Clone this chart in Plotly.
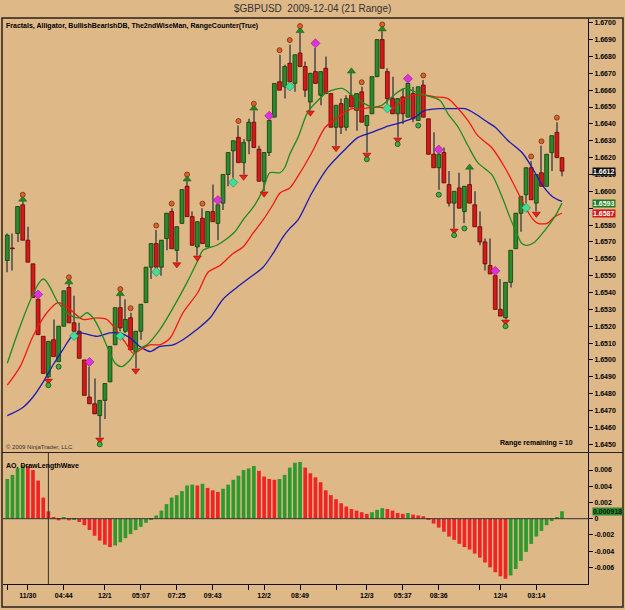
import plotly.graph_objects as go

# ---------------- data ----------------
BARS = list(range(1, 110))
OPEN = [1.6559,1.6566,1.6575,1.6592,1.6571,1.6557,1.6536,1.6514,1.6490,1.6512,
        1.6499,1.6520,1.6543,1.6522,1.6517,1.6500,1.6478,1.6474,1.6467,1.6476,
        1.6487,1.6509,1.6531,1.6517,1.6525,1.6505,1.6517,1.6534,1.6555,1.6569,
        1.6555,1.6572,1.6588,1.6565,1.6581,1.6603,1.6585,1.6567,1.6584,1.6567,
        1.6588,1.6581,1.6593,1.6610,1.6624,1.6632,1.6617,1.6630,1.6641,1.6625,
        1.6606,1.6623,1.6644,1.6665,1.6662,1.6676,1.6664,1.6682,1.6674,1.6653,
        1.6671,1.6657,1.6673,1.6658,1.6638,1.6652,1.6638,1.6657,1.6648,1.6659,
        1.6639,1.6646,1.6668,1.6690,1.6671,1.6655,1.6646,1.6656,1.6644,1.6658,
        1.6642,1.6663,1.6643,1.6622,1.6614,1.6623,1.6604,1.6593,1.6602,1.6588,
        1.6604,1.6592,1.6579,1.6570,1.6556,1.6550,1.6530,1.6525,1.6546,1.6566,
        1.6587,1.6598,1.6614,1.6593,1.6611,1.6603,1.6623,1.6635,1.6620]
HIGH = [1.6575,1.6575,1.6591,1.6594,1.6579,1.6557,1.6536,1.6514,1.6511,1.6524,
        1.6520,1.6541,1.6545,1.6538,1.6522,1.6500,1.6496,1.6489,1.6476,1.6486,
        1.6508,1.6531,1.6538,1.6536,1.6528,1.6517,1.6533,1.6555,1.6569,1.6577,
        1.6571,1.6587,1.6590,1.6579,1.6601,1.6606,1.6588,1.6582,1.6590,1.6588,
        1.6604,1.6592,1.6610,1.6623,1.6630,1.6639,1.6631,1.6643,1.6648,1.6627,
        1.6623,1.6642,1.6664,1.6681,1.6675,1.6687,1.6681,1.6694,1.6677,1.6670,
        1.6685,1.6671,1.6680,1.6658,1.6651,1.6655,1.6657,1.6670,1.6658,1.6662,
        1.6645,1.6668,1.6690,1.6695,1.6673,1.6668,1.6655,1.6661,1.6664,1.6662,
        1.6662,1.6666,1.6643,1.6635,1.6622,1.6626,1.6612,1.6600,1.6611,1.6603,
        1.6613,1.6600,1.6588,1.6572,1.6572,1.6550,1.6548,1.6546,1.6565,1.6587,
        1.6597,1.6614,1.6618,1.6610,1.6627,1.6622,1.6633,1.6641,1.6620]
LOW = [1.6552,1.6553,1.6570,1.6571,1.6558,1.6537,1.6515,1.6492,1.6489,1.6502,
       1.6499,1.6520,1.6522,1.6517,1.6501,1.6479,1.6474,1.6468,1.6454,1.6465,
       1.6487,1.6509,1.6517,1.6516,1.6506,1.6495,1.6512,1.6534,1.6548,1.6555,
       1.6550,1.6565,1.6566,1.6558,1.6581,1.6585,1.6568,1.6562,1.6569,1.6567,
       1.6582,1.6571,1.6589,1.6603,1.6608,1.6617,1.6610,1.6622,1.6626,1.6606,
       1.6600,1.6621,1.6644,1.6660,1.6655,1.6665,1.6659,1.6674,1.6656,1.6648,
       1.6664,1.6651,1.6658,1.6638,1.6627,1.6634,1.6636,1.6650,1.6636,1.6641,
       1.6623,1.6646,1.6668,1.6673,1.6652,1.6646,1.6632,1.6640,1.6644,1.6641,
       1.6642,1.6644,1.6622,1.6614,1.6601,1.6605,1.6591,1.6578,1.6590,1.6581,
       1.6593,1.6579,1.6568,1.6553,1.6551,1.6530,1.6526,1.6524,1.6543,1.6566,
       1.6576,1.6593,1.6595,1.6588,1.6603,1.6603,1.6612,1.6620,1.6609]
CLOSE = [1.6574,1.6566,1.6591,1.6571,1.6558,1.6537,1.6515,1.6492,1.6511,1.6502,
         1.6520,1.6541,1.6522,1.6517,1.6501,1.6479,1.6474,1.6468,1.6476,1.6486,
         1.6508,1.6531,1.6519,1.6524,1.6506,1.6517,1.6533,1.6555,1.6569,1.6555,
         1.6571,1.6587,1.6566,1.6579,1.6601,1.6585,1.6568,1.6582,1.6569,1.6588,
         1.6582,1.6592,1.6610,1.6623,1.6630,1.6617,1.6629,1.6641,1.6626,1.6606,
         1.6623,1.6642,1.6664,1.6660,1.6674,1.6665,1.6681,1.6674,1.6660,1.6670,
         1.6664,1.6671,1.6658,1.6638,1.6651,1.6638,1.6655,1.6650,1.6658,1.6641,
         1.6645,1.6668,1.6690,1.6673,1.6655,1.6646,1.6655,1.6646,1.6664,1.6643,
         1.6662,1.6644,1.6622,1.6614,1.6622,1.6605,1.6593,1.6600,1.6590,1.6603,
         1.6593,1.6579,1.6570,1.6557,1.6551,1.6530,1.6526,1.6546,1.6565,1.6587,
         1.6597,1.6614,1.6595,1.6610,1.6603,1.6622,1.6633,1.6620,1.6612]

# Alligator lines (bar position, price)
LIPS_X = [1.0,8.0,10.9,13.0,15.0,16.5,17.7,19.0,21.0,22.0,23.3,24.9,26.3,28.2,30.7,33.3,36.0,38.1,39.1,
          41.8,43.8,45.3,46.9,49.2,50.8,52.1,54.1,55.0,56.0,57.6,59.5,61.5,63.4,66.2,68.1,70.0,72.0,73.9,
          75.1,77.1,78.4,80.4,82.3,85.2,86.8,88.8,90.7,92.6,95.3,97.3,98.8,100.2,101.2,102.2,103.7,105.7,107.6,109.0]
LIPS_Y = [1.6498,1.6548,1.6534,1.6527,1.6525,1.6528,1.6525,1.6518,1.6504,1.6498,1.6496,1.6500,1.6506,1.6509,
          1.6518,1.6531,1.6546,1.6559,1.6565,1.6568,1.6572,1.6576,1.6583,1.6592,1.6601,1.6611,1.6611,1.6614,
          1.6622,1.6632,1.6647,1.6654,1.6659,1.6661,1.6657,1.6653,1.6650,1.6651,1.6654,1.6659,1.6661,1.6659,
          1.6657,1.6654,1.6646,1.6638,1.6627,1.6617,1.6610,1.6597,1.6585,1.6575,1.6569,1.6568,1.6570,1.6577,
          1.6585,1.6593]
TEETH_X = [1.0,3.5,6.0,8.7,10.9,13.2,15.7,18.5,20.4,22.4,24.3,25.5,27.4,28.8,30.7,32.7,35.2,38.1,40.1,42.4,
           44.9,46.9,48.8,50.8,52.7,54.1,56.0,57.6,60.3,62.9,65.4,68.1,70.0,73.2,75.9,77.9,79.8,82.3,84.3,86.8,
           88.8,90.7,92.6,95.3,97.9,99.8,101.8,103.2,104.3,106.1,107.6,109.0]
TEETH_Y = [1.6485,1.6496,1.6514,1.6528,1.6534,1.6530,1.6524,1.6525,1.6524,1.6517,1.6509,1.6504,1.6507,1.6509,
           1.6509,1.6513,1.6528,1.6540,1.6552,1.6556,1.6563,1.6567,1.6575,1.6583,1.6592,1.6599,1.6602,1.6609,
           1.6623,1.6638,1.6644,1.6649,1.6649,1.6650,1.6649,1.6654,1.6657,1.6657,1.6656,1.6655,1.6649,1.6642,
           1.6633,1.6626,1.6614,1.6603,1.6591,1.6584,1.6581,1.6581,1.6585,1.6587]
JAW_X = [1.0,4.1,6.0,8.0,9.9,11.8,13.6,15.2,18.5,21.0,22.9,24.9,26.8,28.8,30.7,33.3,35.2,37.9,40.5,43.0,
         45.7,48.3,50.8,52.7,54.7,56.0,57.6,60.3,63.4,66.8,69.3,72.0,74.5,77.9,80.4,82.3,84.9,87.6,90.1,92.1,
         94.0,96.0,98.5,101.2,103.2,105.1,107.1,109.0]
JAW_Y = [1.6467,1.6472,1.6478,1.6487,1.6497,1.6506,1.6514,1.6516,1.6514,1.6516,1.6516,1.6513,1.6508,1.6505,
         1.6508,1.6509,1.6512,1.6518,1.6525,1.6536,1.6543,1.6549,1.6555,1.6563,1.6573,1.6578,1.6583,1.6599,
         1.6614,1.6625,1.6632,1.6635,1.6638,1.6641,1.6644,1.6648,1.6649,1.6649,1.6649,1.6646,1.6642,1.6638,
         1.6630,1.6623,1.6614,1.6604,1.6597,1.6594]

# Signal markers (bar numbers)
FRACTAL_UP_BARS = [4, 13, 23, 36, 49, 58, 74]
ARROW_UP_ONLY_BARS = [68, 91]
WISEMAN_DOT_BARS = [25, 30, 33, 39, 46, 54, 56, 70, 82, 103, 105, 108]
FRACTAL_DOWN_BARS = [9, 19, 26, 34, 38, 47, 51, 60, 65, 71, 77, 88, 98, 104]
BULL_DOT_BARS = [9, 11, 19, 71, 77, 81, 85, 88, 90, 98]
BEARISH_DB_BARS = [7, 17, 42, 52, 61, 79, 85, 96]
BULLISH_DB_BARS = [14, 23, 30, 45, 56, 75, 102]

# Awesome oscillator
AO = [0.0049,0.0054,0.0062,0.0066,0.0065,0.0060,0.0047,0.0026,0.0009,0.0001,
      -0.0002,0.0001,-0.0002,-0.0001,-0.0004,-0.0008,-0.0014,-0.0021,-0.0027,-0.0032,
      -0.0035,-0.0033,-0.0029,-0.0024,-0.0019,-0.0014,-0.0010,-0.0005,-0.0001,0.0004,
      0.0010,0.0018,0.0026,0.0029,0.0034,0.0041,0.0042,0.0041,0.0043,0.0038,
      0.0035,0.0033,0.0037,0.0042,0.0048,0.0053,0.0060,0.0062,0.0065,0.0059,
      0.0052,0.0049,0.0048,0.0049,0.0054,0.0063,0.0069,0.0070,0.0063,0.0056,
      0.0051,0.0045,0.0035,0.0029,0.0024,0.0019,0.0015,0.0012,0.0010,0.0008,
      0.0006,0.0008,0.0011,0.0013,0.0012,0.0010,0.0007,0.0006,0.0007,0.0005,
      0.0004,0.0003,-0.0001,-0.0006,-0.0011,-0.0016,-0.0022,-0.0026,-0.0031,-0.0035,
      -0.0038,-0.0043,-0.0048,-0.0054,-0.0060,-0.0066,-0.0071,-0.0074,-0.0070,-0.0062,
      -0.0052,-0.0041,-0.0031,-0.0022,-0.0015,-0.0008,-0.0003,0.0002,0.000918]
CURSOR_BAR = 9

PRICE_TICK_VALUES = [1.6450,1.6460,1.6470,1.6480,1.6490,1.6500,1.6510,1.6520,1.6530,1.6540,1.6550,1.6560,
                     1.6570,1.6580,1.6590,1.6600,1.6610,1.6620,1.6630,1.6640,1.6650,1.6660,1.6670,1.6680,
                     1.6690,1.6700]
# 1.6590 is hidden behind the value boxes in the reference
PRICE_TICK_LABELS = ["1.6450","1.6460","1.6470","1.6480","1.6490","1.6500","1.6510","1.6520",
                     "1.6530","1.6540","1.6550","1.6560","1.6570","1.6580","","1.6600",
                     "1.6610","1.6620","1.6630","1.6640","1.6650","1.6660","1.6670","1.6680",
                     "1.6690","1.6700"]
AO_TICK_LABELS = ["-0.006","-0.004","-0.002","0","0.002","0.004","0.006"]
TIME_LABELS = ["11/30","04:44","12/1","05:07","07:25","09:43","12/2","08:49","12/3","05:37","08:36","12/4","03:14"]
TIME_LABEL_BARS = [5, 12, 20, 27, 34, 41, 51, 58, 71, 78, 85, 97, 104]
MINOR_TICK_BARS = [1, 48, 65, 93]

TITLE = "$GBPUSD\u00a0 2009-12-04 (21 Range)"
INDICATORS = "Fractals, Alligator, BullishBearishDB, The2ndWiseMan, RangeCounter(True)"
COPYRIGHT = "\u00a9 2009 NinjaTrader, LLC"
RANGE_TEXT = "Range remaining = 10"
AO_TITLE = "AO, DrawLengthWave"

# ---------------- styles ----------------
BG = "#DEB887"
FONT = "Liberation Sans"
UP_FILL, UP_EDGE = "#2B8A2B", "#0E3E0E"
DN_FILL, DN_EDGE = "#D81818", "#5E0606"
WICK = "#6E6458"
LIPS_C, TEETH_C, JAW_C = "#1E8C1E", "#F01A10", "#1A1AB4"
AO_UP, AO_DN = "#2E9A2E", "#F02424"


def px_x(px):
    return (px - 3) / 585.0


def px_y(py):
    return (584 - py) / 566.0


idx = {b: i for i, b in enumerate(BARS)}
up = [c > o for o, c in zip(OPEN, CLOSE)]
body_base = [min(o, c) for o, c in zip(OPEN, CLOSE)]
body_h = [max(abs(c - o), 0.00004) for o, c in zip(OPEN, CLOSE)]
wick_h = [h - l for h, l in zip(HIGH, LOW)]

fig = go.Figure()

# wicks
fig.add_trace(go.Bar(x=BARS, y=wick_h, base=LOW, width=0.2, marker=dict(color=WICK, line=dict(width=0)),
                     hoverinfo="skip"))
# bodies
fig.add_trace(go.Bar(x=BARS, y=body_h, base=body_base, width=0.74,
                     marker=dict(color=[UP_FILL if u else DN_FILL for u in up],
                                 line=dict(color=[UP_EDGE if u else DN_EDGE for u in up], width=0.8)),
                     hoverinfo="skip"))

# alligator
for xs, ys, col in [(JAW_X, JAW_Y, JAW_C), (TEETH_X, TEETH_Y, TEETH_C), (LIPS_X, LIPS_Y, LIPS_C)]:
    fig.add_trace(go.Scatter(x=xs, y=ys, mode="lines", line=dict(color=col, width=1.3, shape="spline", smoothing=0.8),
                             hoverinfo="skip"))


def mk(bars, ref, off):
    return [b for b in bars], [ref[idx[b]] + off for b in bars]


x, y = mk(FRACTAL_UP_BARS + ARROW_UP_ONLY_BARS, HIGH, 0.00012)
fig.add_trace(go.Scatter(x=x, y=y, mode="markers", marker=dict(symbol="triangle-up", size=7, color="#1E8C1E",
                                                               line=dict(color="#0E4E0E", width=0.5)), hoverinfo="skip"))
x, y = mk(FRACTAL_UP_BARS, HIGH, 0.00040)
x2, y2 = mk(WISEMAN_DOT_BARS, HIGH, 0.00027)
fig.add_trace(go.Scatter(x=x + x2, y=y + y2, mode="markers", marker=dict(symbol="circle", size=5, color="#E0602A",
                                                                           line=dict(color="#5A2A10", width=0.7)), hoverinfo="skip"))
x, y = mk(FRACTAL_DOWN_BARS, LOW, -0.00014)
fig.add_trace(go.Scatter(x=x, y=y, mode="markers", marker=dict(symbol="triangle-down", size=7, color="#F02010",
                                                               line=dict(color="#7A0A0A", width=0.5)), hoverinfo="skip"))
bull_off = [-0.00040 if b in FRACTAL_DOWN_BARS else -0.00030 for b in BULL_DOT_BARS]
fig.add_trace(go.Scatter(x=BULL_DOT_BARS, y=[LOW[idx[b]] + o for b, o in zip(BULL_DOT_BARS, bull_off)], mode="markers",
                         marker=dict(symbol="circle", size=5, color="#3CB043", line=dict(color="#123A12", width=0.7)),
                         hoverinfo="skip"))
x, y = mk(BEARISH_DB_BARS, HIGH, 0.00028)
fig.add_trace(go.Scatter(x=x, y=y, mode="markers", marker=dict(symbol="diamond", size=7, color="#E030E0",
                                                               line=dict(color="#701070", width=0.5)), hoverinfo="skip"))
x, y = mk(BULLISH_DB_BARS, LOW, -0.00028)
fig.add_trace(go.Scatter(x=x, y=y, mode="markers", marker=dict(symbol="diamond", size=7, color="#3CE09A",
                                                               line=dict(color="#13704A", width=0.5)), hoverinfo="skip"))

# AO histogram
ao_col = [AO_UP if (i == 0 or AO[i] > AO[i - 1]) else AO_DN for i in range(len(AO))]
fig.add_trace(go.Bar(x=BARS, y=AO, width=0.72, marker=dict(color=ao_col, line=dict(width=0)),
                     xaxis="x2", yaxis="y2", hoverinfo="skip"))

XR = [0.163, 114.06]
tickfont = dict(family=FONT, size=7, color="#000", weight="bold")
fig.update_layout(
    width=625, height=610, margin=dict(l=3, r=37, t=18, b=26),
    paper_bgcolor=BG, plot_bgcolor=BG, showlegend=False, barmode="overlay",
    xaxis=dict(domain=[0, 1], range=XR, anchor="y", showticklabels=False, showgrid=False, zeroline=False,
               ticks="", showline=False),
    yaxis=dict(domain=[px_y(452), 1], range=[1.64454, 1.67028], side="right", anchor="x",
               tickvals=PRICE_TICK_VALUES, ticktext=PRICE_TICK_LABELS,
               ticks="outside", ticklen=4, tickcolor="#000", tickwidth=1, showline=True, linecolor="#111",
               linewidth=1, showgrid=False, zeroline=False, tickfont=tickfont),
    xaxis2=dict(domain=[0, 1], range=XR, anchor="y2", matches="x",
                tickvals=TIME_LABEL_BARS + MINOR_TICK_BARS, ticktext=TIME_LABELS + [""] * len(MINOR_TICK_BARS),
                ticks="outside", ticklen=5, tickcolor="#000", showline=True, linecolor="#111", linewidth=1,
                showgrid=False, zeroline=False, tickfont=tickfont),
    yaxis2=dict(domain=[0, px_y(453)], range=[-0.00805, 0.0081], side="right", anchor="x2",
                tickvals=[float(s) for s in AO_TICK_LABELS], ticktext=AO_TICK_LABELS,
                ticks="outside", ticklen=4, tickcolor="#000", showline=True, linecolor="#111", linewidth=1,
                showgrid=False, zeroline=False, tickfont=tickfont),
)

shapes = [
    dict(type="rect", xref="paper", yref="paper", x0=px_x(2), x1=px_x(623), y0=px_y(607), y1=px_y(18),
         line=dict(color="#2A2018", width=1.5)),
    dict(type="line", xref="paper", yref="paper", x0=px_x(2), x1=px_x(623), y0=px_y(452.5), y1=px_y(452.5),
         line=dict(color="#2A2018", width=1.2)),
    dict(type="line", xref="x2 domain", yref="y2", x0=0, x1=1, y0=0, y1=0, line=dict(color="#333", width=1)),
    dict(type="line", xref="x2", yref="y2 domain", x0=CURSOR_BAR, x1=CURSOR_BAR, y0=0, y1=1,
         line=dict(color="#333", width=1)),
]
fig.update_layout(shapes=shapes)

ann = [
    dict(text=TITLE, x=px_x(312), y=px_y(8), xref="paper", yref="paper", showarrow=False,
         font=dict(family=FONT, size=10, color="#333"), xanchor="center", yanchor="middle"),
    dict(text=INDICATORS, x=px_x(4), y=px_y(26), xref="paper", yref="paper", showarrow=False,
         font=dict(family=FONT, size=7, color="#000", weight="bold"), xanchor="left", yanchor="middle"),
    dict(text=COPYRIGHT, x=px_x(4), y=px_y(447), xref="paper", yref="paper", showarrow=False,
         font=dict(family=FONT, size=6, color="#333"), xanchor="left", yanchor="middle"),
    dict(text=RANGE_TEXT, x=px_x(575), y=px_y(443), xref="paper", yref="paper", showarrow=False,
         font=dict(family=FONT, size=7, color="#000", weight="bold"), xanchor="right", yanchor="middle"),
    dict(text=AO_TITLE, x=px_x(4), y=px_y(466), xref="paper", yref="paper", showarrow=False,
         font=dict(family=FONT, size=7, color="#000", weight="bold"), xanchor="left", yanchor="middle"),
]
# right-hand value boxes
boxes = [(CLOSE[-1], "y", "#101010", "#FFFFFF", f"{CLOSE[-1]:.4f}"),
         (LIPS_Y[-1], "y", "#1E7A1E", "#FFFFFF", f"{LIPS_Y[-1]:.4f}"),
         (TEETH_Y[-1], "y", "#D01818", "#FFFFFF", f"{TEETH_Y[-1]:.4f}"),
         (AO[-1], "y2", "#2E8A2E", "#0A1A0A", f"{AO[-1]:.6f}")]
for val, yref, bg, fg, txt in boxes:
    ann.append(dict(text=txt, x=px_x(592), y=val, xref="paper", yref=yref, showarrow=False, xanchor="left",
                    yanchor="middle", bgcolor=bg, borderpad=0,
                    font=dict(family=FONT, size=7, color=fg, weight="bold")))
fig.update_layout(annotations=ann)

# small pointers of the value boxes
ptr_x = XR[1] + 0.55
fig.add_trace(go.Scatter(x=[ptr_x] * 3, y=[CLOSE[-1], LIPS_Y[-1], TEETH_Y[-1]], mode="markers", cliponaxis=False,
                         marker=dict(symbol="triangle-left", size=7, color=["#101010", "#1E7A1E", "#D01818"]),
                         hoverinfo="skip"))
fig.add_trace(go.Scatter(x=[ptr_x], y=[AO[-1]], mode="markers", cliponaxis=False, xaxis="x2", yaxis="y2",
                         marker=dict(symbol="triangle-left", size=7, color="#2E8A2E"), hoverinfo="skip"))

fig.write_html("out.html")
